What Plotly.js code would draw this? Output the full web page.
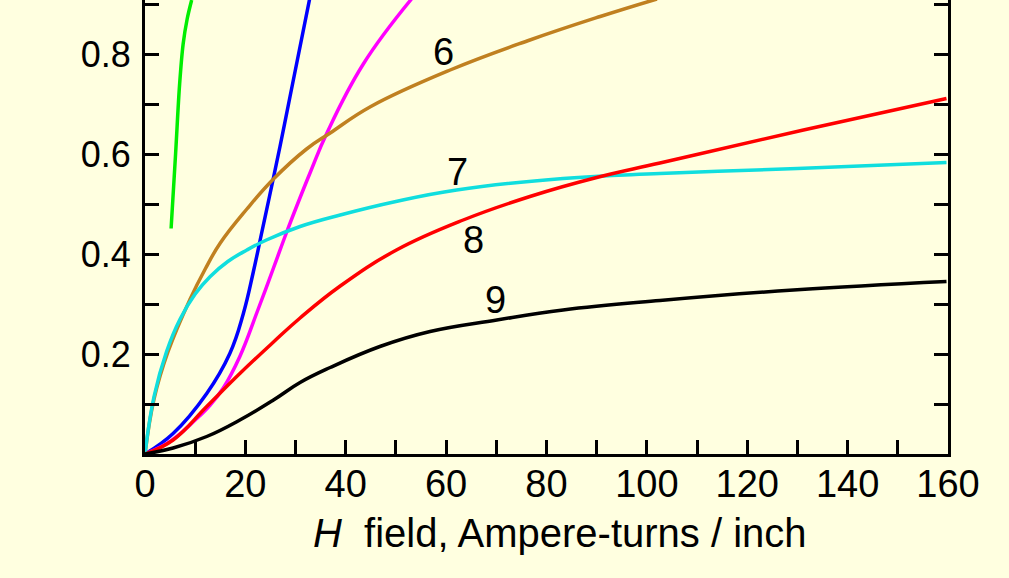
<!DOCTYPE html>
<html>
<head>
<meta charset="utf-8">
<script src="https://cdn.plot.ly/plotly-3.0.1.min.js"></script>
<style>html,body{margin:0;padding:0;background:#ffffe0;}#chart{width:1009px;height:578px;}</style>
</head>
<body>
<div id="chart"></div>
<script>
// Magnetization curves: B vs H field (Ampere-turns / inch)
const greenH = [5.2, 6.1, 6.9, 7.6, 8.4, 9.3];
const greenB = [0.451, 0.601, 0.74, 0.82, 0.87, 0.908];

const blueH = [0, 5.6, 12.3, 16.9, 19.6, 21.6, 23.2, 24.8, 26.9, 28.9, 32.9];
const blueB = [0, 0.041, 0.121, 0.201, 0.281, 0.365, 0.44, 0.515, 0.615, 0.715, 0.915];

const magentaH = [0, 5, 10, 13, 15.6, 18.9, 22.3, 25.6, 28.2, 30.2, 33, 36.2, 43.5, 53.1];
const magentaB = [0, 0.025, 0.068, 0.098, 0.132, 0.195, 0.283, 0.372, 0.443, 0.495, 0.565, 0.641, 0.78, 0.91];

const brownH = [0, 1.8, 4.6, 9.0, 12, 15, 20.3, 25.6, 32.2, 36.9, 45, 60.8, 76.7, 90.7, 102];
const brownB = [0, 0.11, 0.205, 0.31, 0.37, 0.422, 0.49, 0.55, 0.61, 0.642, 0.695, 0.768, 0.828, 0.875, 0.91];

const cyanH = [0, 1.8, 4.3, 7, 10, 13, 16.5, 20.3, 24.2, 30.9, 38.9, 50, 62.1, 83.3, 102.6, 130, 159.7];
const cyanB = [0, 0.115, 0.205, 0.27, 0.32, 0.355, 0.385, 0.408, 0.428, 0.455, 0.478, 0.505, 0.528, 0.551, 0.561, 0.571, 0.583];

const redH = [0, 5.6, 12.3, 18.9, 25.6, 30.9, 38.9, 50.1, 63.4, 76.7, 90, 102.6, 131.2, 159.7];
const redB = [0, 0.028, 0.095, 0.161, 0.224, 0.272, 0.336, 0.408, 0.468, 0.515, 0.553, 0.582, 0.648, 0.711];

const blackH = [0, 5.6, 12.3, 18.9, 25.6, 30.9, 36.9, 46.8, 56.8, 70.1, 83.3, 102.6, 129.2, 159.7];
const blackB = [0, 0.012, 0.035, 0.068, 0.108, 0.143, 0.173, 0.215, 0.245, 0.268, 0.288, 0.307, 0.328, 0.345];

const curveLabels = ["6", "7", "8", "9"];
const labelH = [59.4, 62.2, 65.4, 69.9];
const labelB = [0.804, 0.564, 0.428, 0.308];

const xTickVals = [0, 20, 40, 60, 80, 100, 120, 140, 160];
const yTickVals = [0.2, 0.4, 0.6, 0.8];

const FONT = "Liberation Sans, Arial, sans-serif";

function curve(x, y, color, smooth) {
  return {x: x, y: y, type: "scatter", mode: "lines",
    line: {color: color, width: 3.5, shape: "spline", smoothing: smooth},
    hoverinfo: "skip", showlegend: false};
}

const data = [
  curve(greenH, greenB, "#00ee00", 1),
  curve(blueH, blueB, "#0000ff", 1.2),
  curve(magentaH, magentaB, "#ff00ff", 1.2),
  curve(brownH, brownB, "#c08020", 1.2),
  curve(cyanH, cyanB, "#10dede", 1.2),
  curve(redH, redB, "#ff0000", 1.2),
  curve(blackH, blackB, "#000000", 1.2)
];

const annotations = curveLabels.map((t, i) => ({
  x: labelH[i], y: labelB[i], xref: "x", yref: "y", text: t, showarrow: false,
  font: {family: FONT, size: 38, color: "#000"}
}));
annotations.push({
  x: 0.517, y: 0, xref: "paper", yref: "paper", yanchor: "middle", yshift: -79,
  text: "<i>H</i>&nbsp; field, Ampere-turns / inch", showarrow: false,
  font: {family: FONT, size: 40, color: "#000"}
});

const layout = {
  width: 1009, height: 578,
  margin: {l: 145, r: 61, t: 0, b: 124},
  paper_bgcolor: "#ffffe0", plot_bgcolor: "#ffffe0",
  font: {family: FONT, color: "#000"},
  xaxis: {
    range: [0, 160], tickmode: "array", tickvals: xTickVals,
    ticks: "inside", ticklen: 14, tickwidth: 3, tickcolor: "#000",
    minor: {dtick: 10, tick0: 0, ticks: "inside", ticklen: 14, tickwidth: 3, tickcolor: "#000", showgrid: false},
    showline: true, linewidth: 3, linecolor: "#000", mirror: false,
    showgrid: false, zeroline: false, tickfont: {family: FONT, size: 38},
    ticklabelstandoff: -6, fixedrange: true
  },
  yaxis: {
    range: [0, 0.908], tickmode: "array", tickvals: yTickVals,
    ticks: "inside", ticklen: 14, tickwidth: 3, tickcolor: "#000",
    minor: {dtick: 0.1, tick0: 0, ticks: "inside", ticklen: 14, tickwidth: 3, tickcolor: "#000", showgrid: false},
    showline: true, linewidth: 3, linecolor: "#000", mirror: "allticks",
    showgrid: false, zeroline: false, tickfont: {family: FONT, size: 36},
    ticklabelstandoff: 4, fixedrange: true
  },
  annotations: annotations
};

Plotly.newPlot("chart", data, layout, {staticPlot: true, displayModeBar: false});
</script>
</body>
</html>
